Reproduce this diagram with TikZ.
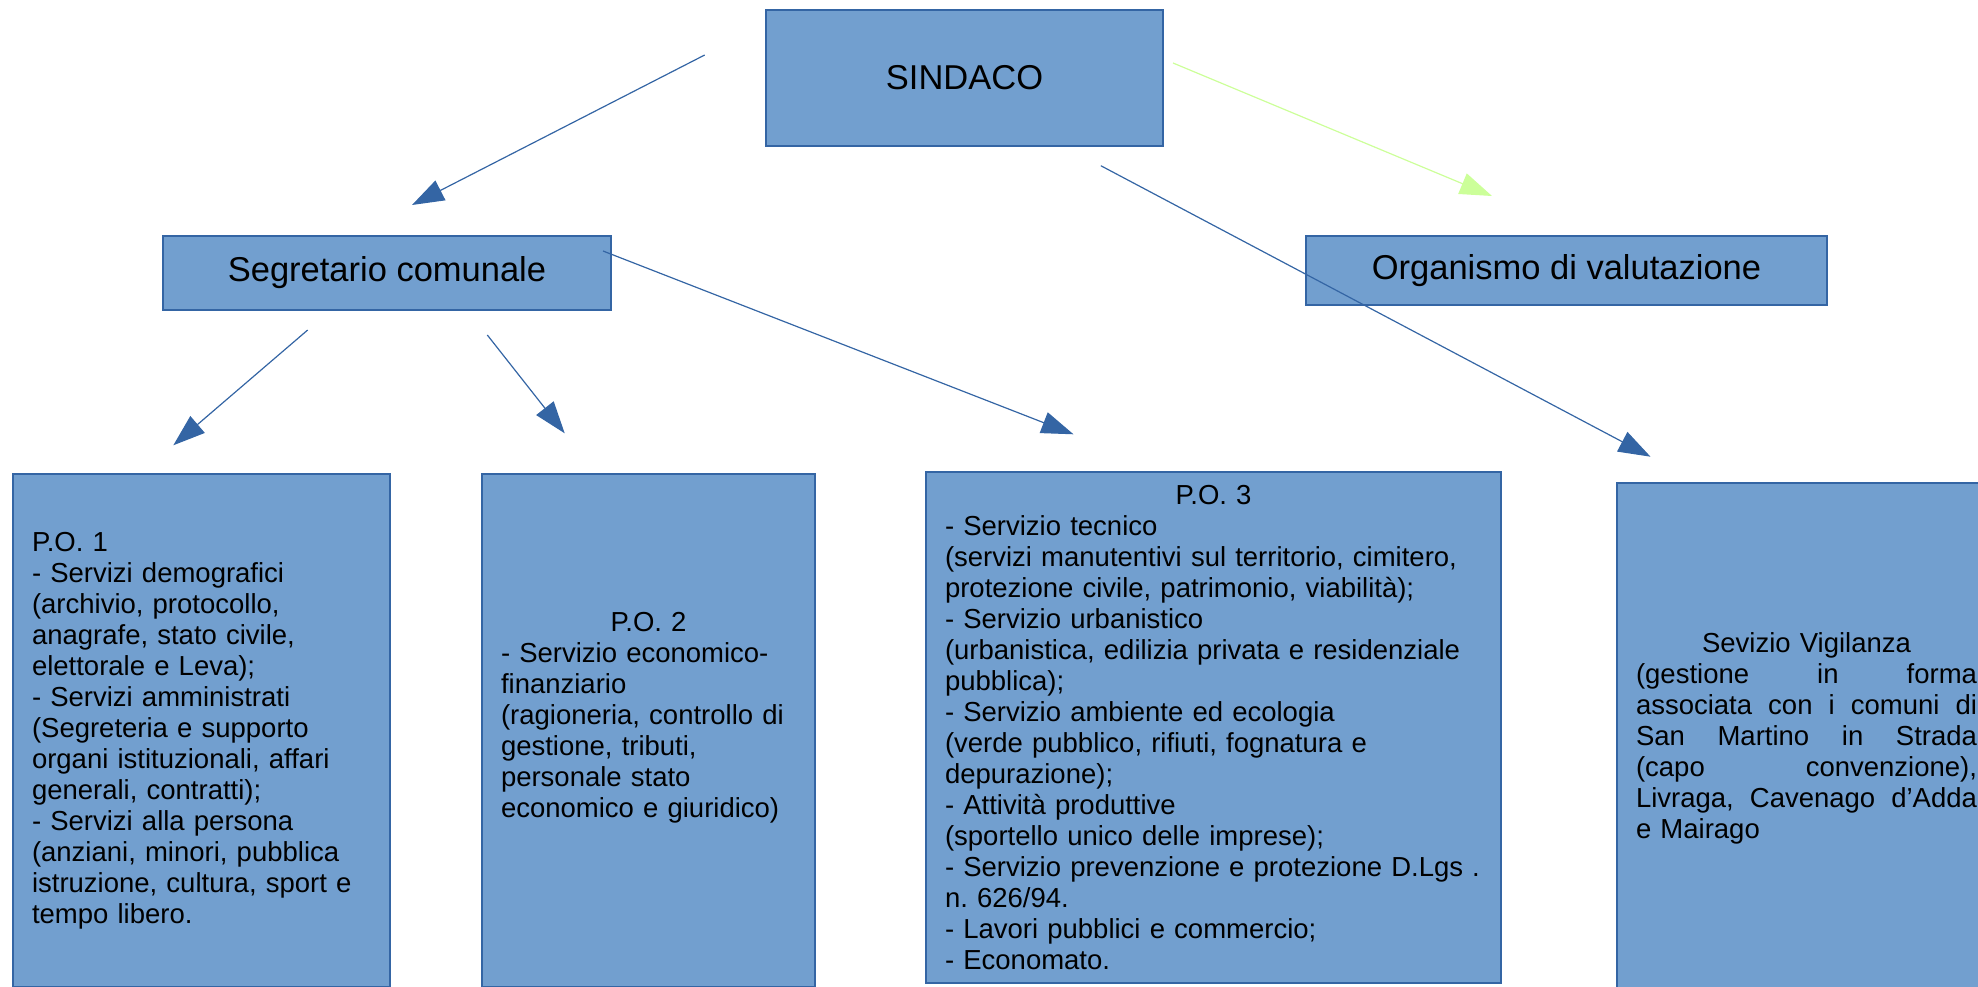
\documentclass[tikz,border=0pt]{standalone}
\usepackage{fontspec}
\setmainfont{Liberation Sans}
\usetikzlibrary{arrows.meta}
\definecolor{boxfill}{HTML}{729FCF}
\definecolor{boxline}{HTML}{3465A4}
\definecolor{linkgreen}{HTML}{CCFF99}
\tikzset{
  box/.style={draw=boxline, fill=boxfill, line width=1.3pt, inner sep=0pt},
  headbox/.style={box, font=\fontsize{34.5}{39}\selectfont},
  officebox/.style={box, font=\fontsize{27.5}{31}\selectfont, align=left, inner xsep=19pt},
  link/.style={draw=boxline, line width=1.2pt, -{Triangle[length=32pt,width=22pt]}}
}
\begin{document}
\begin{tikzpicture}[x=1pt,y=-1pt]
\useasboundingbox (0,0) rectangle (1978,987);

\node [headbox, minimum width=397pt, minimum height=136pt] (sindaco) at (964.5,78) {SINDACO};
\node [headbox, minimum width=448pt, minimum height=74pt] (segretario) at (387,273) {Segretario comunale};
\node [headbox, minimum width=521pt, minimum height=69pt] (organismo) at (1566.5,270.5) {Organismo di valutazione};

\node [officebox, text width=339pt, minimum height=513pt] (po1) at (201.5,730.5) {%
P.O. 1\\
- Servizi demografici\\
(archivio, protocollo,\\
anagrafe, stato civile,\\
elettorale e Leva);\\
- Servizi amministrati\\
(Segreteria e supporto\\
organi istituzionali, affari\\
generali, contratti);\\
- Servizi alla persona\\
(anziani, minori, pubblica\\
istruzione, cultura, sport e\\
tempo libero.};

\node [officebox, text width=295pt, minimum height=513pt] (po2) at (648.5,730.5) {%
\makebox[\linewidth]{P.O. 2}\\
- Servizio economico-\\
finanziario\\
(ragioneria, controllo di\\
gestione, tributi,\\
personale stato\\
economico e giuridico)\\
\mbox{}};

\node [officebox, text width=537pt, minimum height=511pt] (po3) at (1213.5,727.5) {%
\makebox[\linewidth]{P.O. 3}\\
- Servizio tecnico\\
(servizi manutentivi sul territorio, cimitero,\\
protezione civile, patrimonio, viabilità);\\
- Servizio urbanistico\\
(urbanistica, edilizia privata e residenziale\\
pubblica);\\
- Servizio ambiente ed ecologia\\
(verde pubblico, rifiuti, fognatura e\\
depurazione);\\
- Attività produttive\\
(sportello unico delle imprese);\\
- Servizio prevenzione e protezione D.Lgs .\\
n.\ 626/94.\\
- Lavori pubblici e commercio;\\
- Economato.};

\node [officebox, text width=341pt, minimum height=510pt] (vigilanza) at (1806.5,738) {%
\makebox[\linewidth]{Sevizio Vigilanza}\\
\makebox[\linewidth]{(gestione\hfill in\hfill forma}\\
\makebox[\linewidth]{associata\hfill con\hfill i\hfill comuni\hfill di}\\
\makebox[\linewidth]{San\hfill Martino\hfill in\hfill Strada}\\
\makebox[\linewidth]{(capo\hfill convenzione),}\\
\makebox[\linewidth]{Livraga,\hfill Cavenago\hfill d’Adda}\\
e Mairago};

\coordinate (sindaco-l) at (704.7,55);
\coordinate (segretario-t) at (412,205);
\coordinate (sindaco-r) at (1173,63);
\coordinate (organismo-t) at (1492,196);
\coordinate (sindaco-b) at (1100.8,165.7);
\coordinate (vigilanza-t) at (1650.5,456.7);
\coordinate (segretario-bl) at (307.7,330);
\coordinate (po1-t) at (173.3,445.3);
\coordinate (segretario-br) at (487.3,335);
\coordinate (po2-t) at (564.7,433.3);
\coordinate (segretario-r) at (603,251);
\coordinate (po3-t) at (1073.5,434.3);

\draw [link] (sindaco-l) -- (segretario-t);
\draw [link, draw=linkgreen] (sindaco-r) -- (organismo-t);
\draw [link] (sindaco-b) -- (vigilanza-t);
\draw [link] (segretario-bl) -- (po1-t);
\draw [link] (segretario-br) -- (po2-t);
\draw [link] (segretario-r) -- (po3-t);
\end{tikzpicture}
\end{document}
